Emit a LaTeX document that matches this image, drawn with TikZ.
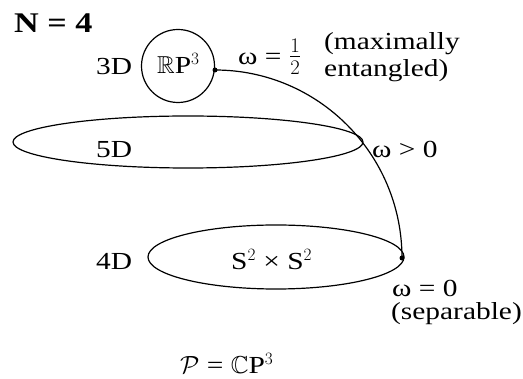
\documentclass[tikz,border=0pt]{standalone}
\usepackage{amssymb}
\usepackage{fontspec}
\setmainfont{Liberation Serif}[FakeStretch=1.2]
\usetikzlibrary{shapes.geometric}
\begin{document}
\begin{tikzpicture}[x=1pt,y=-1pt,
  lab/.style={font=\fontsize{24.5}{26}\selectfont, inner sep=0pt, anchor=base west},
  region/.style={draw, line width=1.2pt, inner sep=0pt},
  dotc/.style={circle, fill, inner sep=0pt, minimum size=5pt},
  path/.style={line width=1.2pt}]
\useasboundingbox (0,0) rectangle (523,379);
% title
\node[lab, font=\fontsize{28.5}{30}\selectfont\bfseries] (title) at (14,33) {N = 4};
% 3D region
\node[region, circle, minimum size=73pt] (rp) at (178,66) {};
\node[lab] (rplab) at (157,74) {$\mathbb{R}$P$^3$};
\node[lab] (d3) at (96,75) {3D};
% 5D region
\node[region, ellipse, minimum width=350pt, minimum height=52pt] (e5) at (188,142) {};
\node[lab] (d5) at (96,158) {5D};
% 4D region
\node[region, ellipse, minimum width=256pt, minimum height=64pt] (e4) at (276,257) {};
\node[lab] (s2lab) at (231,270) {S$^2$ × S$^2$};
\node[lab] (d4) at (96,270) {4D};
% path of states
\node[dotc] (p1) at (215,70) {};
\node[dotc] (p2) at (402,258) {};
\draw[path] (p1.center) .. controls +(103,0) and +(0,-104) .. (p2.center);
% labels
\node[lab] (w12) at (238,65) {ω = \raisebox{1pt}{\scalebox{1.2}{$\frac{1}{2}$}}};
\node[lab, align=left, anchor=north west, font=\fontsize{24.5}{27}\selectfont] (maxent) at (324,32) {(maximally\\entangled)};
\node[lab] (wgt) at (372,158) {ω > 0};
\node[lab] (w0) at (392,297) {ω = 0};
\node[lab] (sep) at (391,320) {(separable)};
\node[lab] (cp) at (180,374) {$\mathcal{P}$ = $\mathbb{C}$P$^3$};
\end{tikzpicture}
\end{document}
